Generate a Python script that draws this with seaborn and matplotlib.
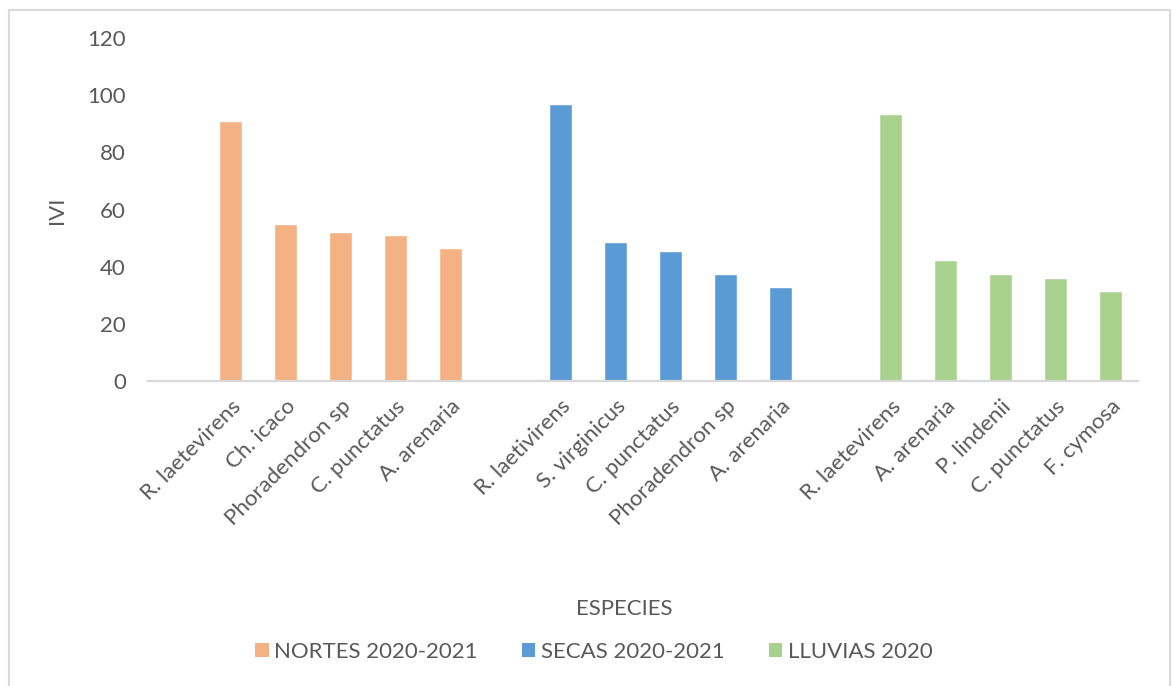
import matplotlib
matplotlib.use("Agg")
import matplotlib.pyplot as plt
from matplotlib.patches import Rectangle, Patch
import seaborn as sns
import pandas as pd

# Importance value index (IVI) of the five leading species per season
seasons = ["NORTES 2020-2021", "SECAS 2020-2021", "LLUVIAS 2020"]
species_nortes = ["R. laetevirens", "Ch. icaco", "Phoradendron sp", "C. punctatus", "A. arenaria"]
ivi_nortes = [91, 55, 52, 51, 46.5]
species_secas = ["R. laetivirens", "S. virginicus", "C. punctatus", "Phoradendron sp", "A. arenaria"]
ivi_secas = [97, 48.5, 45.5, 37.5, 33]
species_lluvias = ["R. laetevirens", "A. arenaria", "P. lindenii", "C. punctatus", "F. cymosa"]
ivi_lluvias = [93.5, 42.5, 37.5, 36, 31.5]
colors = ["#F4B183", "#5B9BD5", "#A9D18E"]
yticks = [0, 20, 40, 60, 80, 100, 120]

groups = [species_nortes, species_secas, species_lluvias]
values = [ivi_nortes, ivi_secas, ivi_lluvias]

rows = []
order = []
labels = []
for g, (season, sp_list, vals) in enumerate(zip(seasons, groups, values)):
    spacer = f"_gap{g}"
    order.append(spacer)
    labels.append("")
    for sp, v in zip(sp_list, vals):
        key = f"{season}|{sp}"
        rows.append({"key": key, "especie": sp, "IVI": v, "temporada": season})
        order.append(key)
        labels.append(sp)
df = pd.DataFrame(rows)

sns.set_theme(style="white")
plt.rcParams["font.family"] = ["Lato", "DejaVu Sans"]
text_color = "#595959"

fig = plt.figure(figsize=(11.73, 6.86), dpi=100)
ax = fig.add_axes([148 / 1173, 1 - 381 / 686, 990 / 1173, 343 / 686])

sns.barplot(data=df, x="key", y="IVI", hue="temporada", order=order,
            hue_order=seasons, palette=colors, dodge=False, width=0.42,
            saturation=1, legend=False, ax=ax)

ax.set_ylim(0, 120)
ax.set_yticks(yticks)
ax.set_xlim(-0.5, len(order) - 0.5)
ax.set_xticks(range(len(order)))
ax.set_xticklabels(labels, rotation=45, ha="right", rotation_mode="anchor")
ax.tick_params(axis="both", length=0, labelsize=16, colors=text_color, pad=11)
ax.tick_params(axis="y", pad=16)
ax.set_xlabel("")
ax.set_ylabel("")
for s in ["top", "right", "left"]:
    ax.spines[s].set_visible(False)
ax.spines["bottom"].set_color("#D9D9D9")
ax.spines["bottom"].set_linewidth(1.6)

fig.text(57 / 1173, 1 - 210 / 686, "IVI", rotation=90, ha="center", va="center",
         fontsize=16, color=text_color)
fig.text(624 / 1173, 1 - 609 / 686, "ESPECIES", ha="center", va="center",
         fontsize=16, color=text_color)

handles = [Patch(facecolor=c, edgecolor="none", label=s) for c, s in zip(colors, seasons)]
leg = fig.legend(handles=handles, loc="center", bbox_to_anchor=(594 / 1173, 1 - 652 / 686),
                 ncol=3, frameon=False, fontsize=16, handlelength=0.6, handleheight=0.6,
                 handletextpad=0.25, columnspacing=2.0)
for t in leg.get_texts():
    t.set_color(text_color)

# chart area border
fig.patches.append(Rectangle((8.5 / 1173, -0.01), 1161.5 / 1173, 1 - 10 / 686 + 0.01,
                             transform=fig.transFigure, fill=False,
                             edgecolor="#D9D9D9", linewidth=1.5))

fig.savefig("out.png", dpi=100, facecolor="white")
